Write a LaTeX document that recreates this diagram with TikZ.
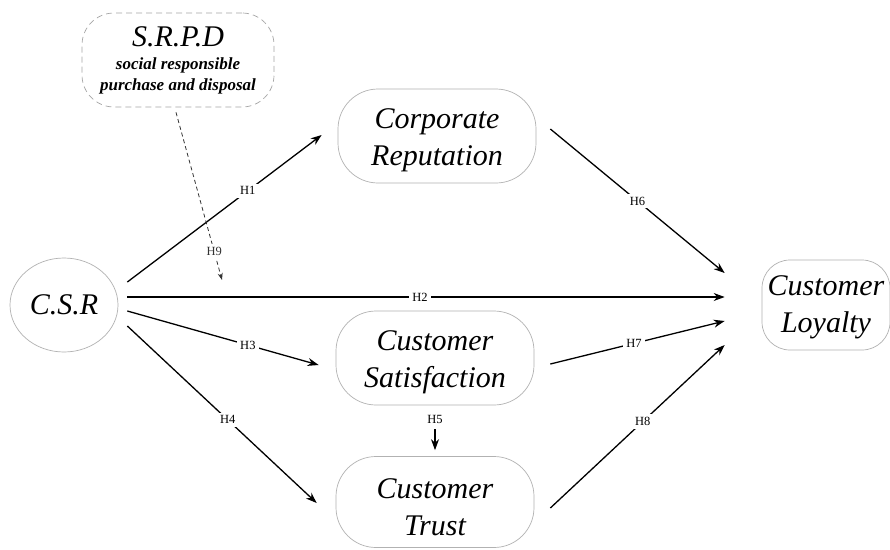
\documentclass[tikz,border=0pt]{standalone}
\usepackage{fontspec}
\setmainfont{Liberation Serif}
\usetikzlibrary{positioning}
\usetikzlibrary{shapes.geometric}
\usetikzlibrary{arrows.meta}

\begin{document}
\begin{tikzpicture}[x=1pt, y=-1pt,
		>={Stealth[length=11pt, width=8pt]},
		construct/.style={draw=gray!60, line width=0.7pt, rounded corners=40pt,
			minimum width=198pt, minimum height=94pt},
		conlabel/.style={anchor=center, yshift=-4pt, align=center,
			font=\itshape\fontsize{30}{37}\selectfont},
		hyp/.style={fill=white, inner sep=3pt, font=\fontsize{12.5}{12.5}\selectfont},
		link/.style={line width=1.3pt}
	]
		
		\fill[white] (0,0) rectangle (890,549);
		\useasboundingbox (0,0) rectangle (890,549);
		
		%constructs
		\node[draw=gray!60, line width=0.7pt, ellipse, minimum width=108pt, minimum height=94pt,
			font=\itshape\fontsize{30}{37}\selectfont] (csr) at (64,305) {C.S.R};
		\node[construct, label={[conlabel]center:Corporate\\Reputation}] (corp) at (437,136) {};
		\node[construct, label={[conlabel]center:Customer\\Satisfaction}] (sat) at (435,358) {};
		\node[construct, minimum height=91pt, label={[conlabel, yshift=-1pt]center:Customer\\Trust}] (trust) at (435,502) {};
		\node[construct, minimum width=128pt, minimum height=90pt, rounded corners=28pt,
			label={[conlabel, yshift=2pt]center:Customer\\Loyalty}] (loyal) at (826,305) {};
		
		%moderator
		\node[draw=gray!70, line width=0.7pt, dash pattern=on 6pt off 4pt, rounded corners=32pt,
			minimum width=192pt, minimum height=94pt, align=center,
			font=\bfseries\itshape\fontsize{17}{21}\selectfont] (srpd) at (178,60)
			{{\mdseries\fontsize{30}{30}\selectfont S.R.P.D}\\[2pt] social responsible\\ purchase and disposal};
		
		%paths
		\draw[link, ->] ([xshift=9pt, yshift=23pt]csr.east) -- node[hyp, pos=0.62] {H1} ([xshift=-16pt, yshift=1pt]corp.west);
		\draw[link, ->] ([xshift=9pt, yshift=8pt]csr.east) -- node[hyp, pos=0.49] {H2} ([xshift=-37pt, yshift=8pt]loyal.west);
		\draw[link, ->] ([xshift=9pt, yshift=-6pt]csr.east) -- node[hyp, pos=0.63] {H3} ([xshift=-17pt, yshift=-7pt]sat.west);
		\draw[link, ->] ([xshift=9pt, yshift=-21pt]csr.east) -- node[hyp, pos=0.53] {H4} ([xshift=-19pt, yshift=-1pt]trust.west);
		
		\node[hyp] (h5) at (435,419) {H5};
		\draw[link, ->, shorten <=3pt] (h5.south) -- ([yshift=6pt]trust.north);
		
		\draw[link, ->] ([xshift=14pt, yshift=7pt]corp.east) -- node[hyp, pos=0.5] {H6} ([xshift=-37pt, yshift=32pt]loyal.west);
		\draw[link, ->] ([xshift=16pt, yshift=-6pt]sat.east) -- node[hyp, pos=0.48] {H7} ([xshift=-37pt, yshift=-16pt]loyal.west);
		\draw[link, ->] ([xshift=16pt, yshift=-6pt]trust.east) -- node[hyp, pos=0.53] {H8} ([xshift=-37pt, yshift=-40pt]loyal.west);
		
		% moderation
		\coordinate (h9end) at (222,280);
		\draw[black!80, line width=0.8pt, dash pattern=on 4pt off 3pt, -{Stealth[length=7pt, width=5pt]}]
			([xshift=-2pt, yshift=-5pt]srpd.south) -- node[hyp, pos=0.83] {H9} (h9end);
	\end{tikzpicture}
\end{document}
